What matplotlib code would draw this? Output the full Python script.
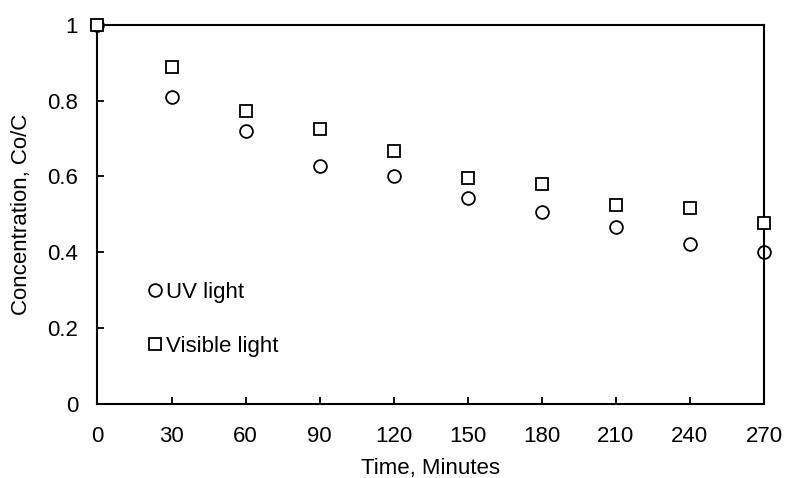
import matplotlib
matplotlib.use('Agg')
import matplotlib.pyplot as plt
import numpy as np

plt.rcParams['font.family'] = ['Liberation Sans', 'DejaVu Sans']

# reaction time, minutes
time_min = [0, 30, 60, 90, 120, 150, 180, 210, 240, 270]
# Co/C
uv_light = [1.0, 0.809, 0.721, 0.627, 0.600, 0.544, 0.506, 0.467, 0.423, 0.400]
visible_light = [1.0, 0.888, 0.774, 0.726, 0.666, 0.596, 0.581, 0.524, 0.518, 0.477]

x_ticks = [0, 30, 60, 90, 120, 150, 180, 210, 240, 270]
y_ticks = [0, 0.2, 0.4, 0.6, 0.8, 1.0]
y_tick_labels = ['0', '0.2', '0.4', '0.6', '0.8', '1']

fs = 16

fig = plt.figure(figsize=(7.86, 4.78), dpi=100)
ax = fig.add_axes([0.124, 0.155, 0.848, 0.793])

ax.plot(time_min, uv_light, linestyle='none', marker='o', markersize=9.2,
        markerfacecolor='none', markeredgecolor='black', markeredgewidth=1.3,
        clip_on=False, zorder=3, label='UV light')
ax.plot(time_min, visible_light, linestyle='none', marker='s', markersize=9.2,
        markerfacecolor='white', markeredgecolor='black', markeredgewidth=1.3,
        clip_on=False, zorder=4, label='Visible light')

ax.set_xlim(0, 270)
ax.set_ylim(0, 1)
ax.set_xticks(x_ticks)
ax.set_xticklabels([str(t) for t in x_ticks])
ax.set_yticks(y_ticks)
ax.set_yticklabels(y_tick_labels)

for s in ax.spines.values():
    s.set_linewidth(1.5)
    s.set_zorder(2.5)
ax.tick_params(direction='in', length=5, width=1.3, labelsize=fs)
ax.tick_params(axis='x', pad=16)
ax.tick_params(axis='y', pad=14)

ax.set_xlabel('Time, Minutes', fontsize=fs, labelpad=8)
ax.set_ylabel('Concentration, Co/C', fontsize=fs, labelpad=11)

ax.legend(loc='center left', bbox_to_anchor=(0.189, 0.3316),
          bbox_transform=fig.transFigure, frameon=False, fontsize=fs,
          handlelength=0.6, handletextpad=0.2, labelspacing=1.5,
          borderpad=0, borderaxespad=0)

fig.savefig('out.png', dpi=100)
